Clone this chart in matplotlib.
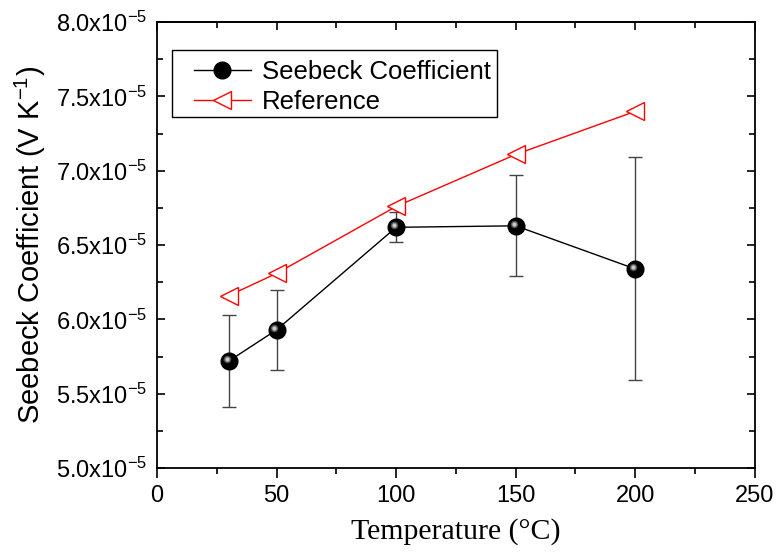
import numpy as np
import matplotlib
matplotlib.use("Agg")
import matplotlib.pyplot as plt
from matplotlib.ticker import MultipleLocator, FuncFormatter
from matplotlib.transforms import ScaledTranslation
from matplotlib.patches import Rectangle

# data (values in V/K)
temps = [30, 50, 100, 150, 200]
seebeck = [5.72e-5, 5.93e-5, 6.62e-5, 6.63e-5, 6.34e-5]
seebeck_err = [0.31e-5, 0.27e-5, 0.10e-5, 0.34e-5, 0.75e-5]
reference = [6.16e-5, 6.31e-5, 6.76e-5, 7.11e-5, 7.40e-5]

plt.rcParams['font.family'] = 'Liberation Sans'
plt.rcParams['mathtext.fontset'] = 'custom'
plt.rcParams['mathtext.rm'] = 'Liberation Sans'

W, H = 779, 554
fig = plt.figure(figsize=(W / 100, H / 100), dpi=100)
ax = fig.add_axes([0.2015, 0.155, 0.7675, 0.805])

# error bars first
ax.errorbar(temps, seebeck, yerr=seebeck_err, fmt='none', ecolor='#444444',
            elinewidth=1.0, capsize=5, capthick=1.0, zorder=2)

line_s, = ax.plot(temps, seebeck, '-', color='black', lw=1.0, marker='o',
                  markersize=12, markerfacecolor='black', markeredgecolor='black',
                  label='Seebeck Coefficient', zorder=4)
# shiny highlight on the spheres
for size, col in [(5.5, '#444444'), (4, '#888888'), (2.5, '#cccccc')]:
    off = ScaledTranslation(-1.5 / 72, 1.5 / 72, fig.dpi_scale_trans)
    ax.plot(temps, seebeck, ls='none', marker='o', markersize=size,
            markerfacecolor=col, markeredgecolor='none',
            transform=ax.transData + off, zorder=5)

line_r, = ax.plot(temps, reference, '-', color='red', lw=1.0, marker='<',
                  markersize=13, markerfacecolor='white', markeredgecolor='red',
                  markeredgewidth=1.0, label='Reference', zorder=3)

ax.set_xlim(0, 250)
ax.set_ylim(5.0e-5, 8.0e-5)
ax.xaxis.set_major_locator(MultipleLocator(50))
ax.xaxis.set_minor_locator(MultipleLocator(25))
ax.yaxis.set_major_locator(MultipleLocator(0.5e-5))
ax.yaxis.set_minor_locator(MultipleLocator(0.25e-5))
ax.yaxis.set_major_formatter(FuncFormatter(
    lambda v, p: r'$\mathregular{%.1fx10^{-5}}$' % (v * 1e5)))

ax.tick_params(axis='x', which='major', direction='out', length=7, width=1.2,
               labelsize=17, pad=5)
ax.tick_params(axis='x', which='minor', direction='out', length=4, width=1.2)
ax.tick_params(axis='y', which='major', direction='in', length=6, width=1.2,
               labelsize=17, right=True, pad=7)
ax.tick_params(axis='y', which='minor', direction='in', length=4, width=1.2, right=True)

# top axis: inward ticks, no labels
top = ax.secondary_xaxis('top')
top.xaxis.set_major_locator(MultipleLocator(50))
top.xaxis.set_minor_locator(MultipleLocator(25))
top.tick_params(which='major', direction='in', length=6, width=1.2, labeltop=False)
top.tick_params(which='minor', direction='in', length=4, width=1.2)
top.spines['top'].set_linewidth(1.3)

for sp in ax.spines.values():
    sp.set_linewidth(1.3)

ax.set_xlabel('Temperature (\u00b0C)', fontsize=21.5, family='Liberation Serif',
              labelpad=8)
ax.set_ylabel(r'Seebeck Coefficient (V K$^{\mathregular{-1}}$)', fontsize=21,
              labelpad=6)

# legend entries without frame, box drawn separately (wider left margin)
leg = ax.legend(handles=[line_s, line_r], loc='upper left',
                fontsize=18.5, frameon=False, handlelength=2.2,
                borderpad=0.0, labelspacing=0.25, handletextpad=0.45,
                borderaxespad=0)
leg.set_bbox_to_anchor((194 / W, 1 - 60 / H), transform=fig.transFigure)
fig.patches.append(Rectangle((172 / W, 1 - 117 / H), 325 / W, 67 / H,
                             transform=fig.transFigure, fill=False,
                             edgecolor='black', lw=1.0, zorder=6))

fig.savefig('out.png', dpi=100)
